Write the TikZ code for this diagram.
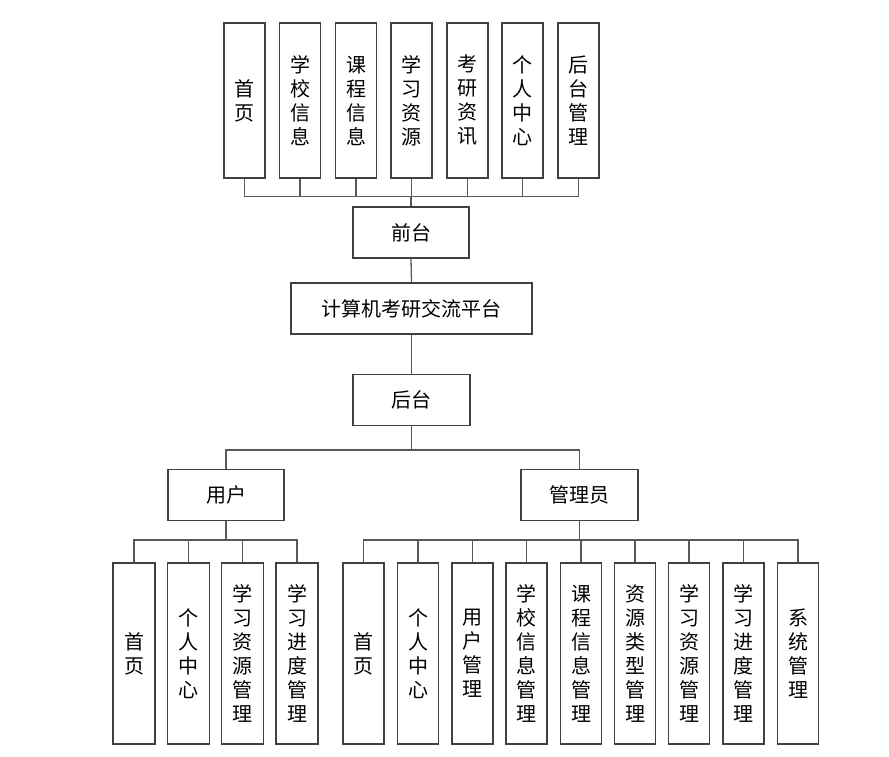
\documentclass[tikz,border=0pt]{standalone}
\usepackage{fontspec}
\setmainfont{Noto Sans CJK SC}
\begin{document}
\begin{tikzpicture}[x=1pt,y=-1pt,
  box/.style={draw=black!75, line width=1.2pt, fill=white, inner sep=0pt, align=center,
    font=\fontsize{20}{24}\selectfont},
  vbox/.style={box, minimum width=41pt},
  hbox/.style={box, minimum height=51pt},
  link/.style={draw=black!65, line width=1.3pt}]
\useasboundingbox (0,0) rectangle (889,757);
% top level
\node[vbox, minimum height=155pt] (t1) at (244.5,100.5) {首\\页};
\node[vbox, minimum height=155pt] (t2) at (300,100.5) {学\\校\\信\\息};
\node[vbox, minimum height=155pt] (t3) at (356,100.5) {课\\程\\信\\息};
\node[vbox, minimum height=155pt] (t4) at (411.5,100.5) {学\\习\\资\\源};
\node[vbox, minimum height=155pt] (t5) at (467.5,100.5) {考\\研\\资\\讯};
\node[vbox, minimum height=155pt] (t6) at (522.5,100.5) {个\\人\\中\\心};
\node[vbox, minimum height=155pt] (t7) at (578.5,100.5) {后\\台\\管\\理};
\node[hbox, minimum width=116pt] (qt) at (411,232.5) {前台};
\node[hbox, minimum width=241pt] (pt) at (411.5,308.5) {计算机考研交流平台};
\node[hbox, minimum width=117pt] (ht) at (411.5,400) {后台};
\node[hbox, minimum width=116pt] (yh) at (226,495) {用户};
\node[hbox, minimum width=117pt] (gl) at (579.5,495) {管理员};
% user children
\node[vbox, minimum width=42pt, minimum height=181pt] (u1) at (134,653.5) {首\\页};
\node[vbox, minimum width=42pt, minimum height=181pt] (u2) at (188.5,653.5) {个\\人\\中\\心};
\node[vbox, minimum width=42pt, minimum height=181pt] (u3) at (242.5,653.5) {学\\习\\资\\源\\管\\理};
\node[vbox, minimum width=42pt, minimum height=181pt] (u4) at (297,653.5) {学\\习\\进\\度\\管\\理};
% admin children
\node[vbox, minimum height=181pt] (a1) at (363.5,653.5) {首\\页};
\node[vbox, minimum height=181pt] (a2) at (418,653.5) {个\\人\\中\\心};
\node[vbox, minimum height=181pt] (a3) at (472.5,653.5) {用\\户\\管\\理};
\node[vbox, minimum height=181pt] (a4) at (526.5,653.5) {学\\校\\信\\息\\管\\理};
\node[vbox, minimum height=181pt] (a5) at (581,653.5) {课\\程\\信\\息\\管\\理};
\node[vbox, minimum height=181pt] (a6) at (635,653.5) {资\\源\\类\\型\\管\\理};
\node[vbox, minimum height=181pt] (a7) at (689,653.5) {学\\习\\资\\源\\管\\理};
\node[vbox, minimum height=181pt] (a8) at (743.5,653.5) {学\\习\\进\\度\\管\\理};
\node[vbox, minimum height=181pt] (a9) at (798,653.5) {系\\统\\管\\理};
% connectors
\foreach \c in {t1,t2,t3,t4,t5,t6,t7}
  \draw[link] (qt.north) -- ++(0,-10) -| (\c.south);
\draw[link] (qt.south) -- (pt.north);
\draw[link] (pt.south) -- (ht.north);
\foreach \c in {yh,gl}
  \draw[link] (ht.south) -- ++(0,24) -| (\c.north);
\foreach \c in {u1,u2,u3,u4}
  \draw[link] (yh.south) -- ++(0,19) -| (\c.north);
\foreach \c in {a1,a2,a3,a4,a5,a6,a7,a8,a9}
  \draw[link] (gl.south) -- ++(0,19) -| (\c.north);
\end{tikzpicture}
\end{document}
